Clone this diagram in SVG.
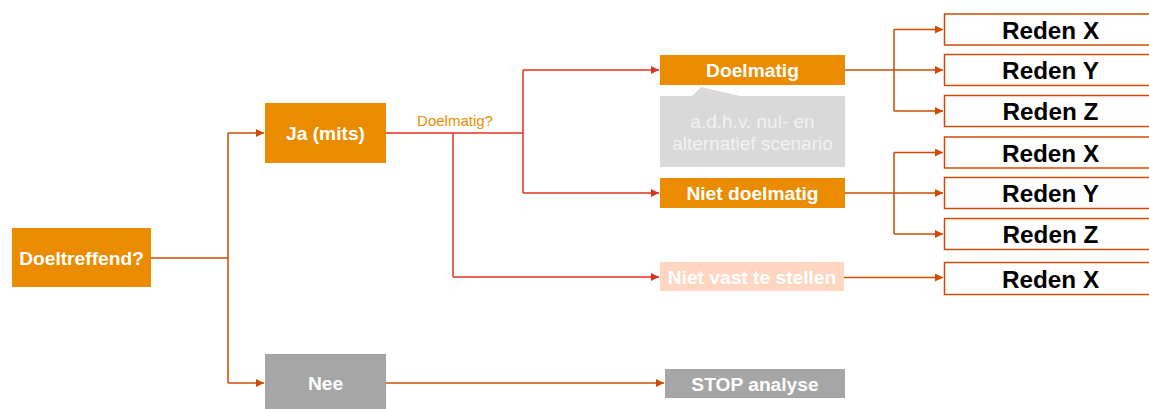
<svg xmlns="http://www.w3.org/2000/svg" width="1149" height="409" viewBox="0 0 1149 409">
<style>
.t{font-family:"Liberation Sans",Arial,sans-serif;font-weight:bold;fill:#fff;text-anchor:middle;font-size:19.2px}
.r{font-family:"Liberation Sans",Arial,sans-serif;font-weight:bold;fill:#000;font-size:24.3px;text-anchor:middle}
.g{font-family:"Liberation Sans",Arial,sans-serif;fill:#F2F2F2;font-size:19px;text-anchor:middle}
.o{fill:#EB8C00}
.rb{fill:#fff;stroke:#D04A02;stroke-width:1.5}
.c1{fill:none;stroke:#D04A02;stroke-width:1.5}
.c2{fill:none;stroke:#E0301E;stroke-width:1.5}
</style>
<defs>
<marker id="a1" markerWidth="8" markerHeight="8" refX="8" refY="4" orient="auto" markerUnits="userSpaceOnUse"><path d="M0,0 L8,4 L0,8 Z" fill="#D04A02"/></marker>
<marker id="a2" markerWidth="8" markerHeight="8" refX="8" refY="4" orient="auto" markerUnits="userSpaceOnUse"><path d="M0,0 L8,4 L0,8 Z" fill="#E0301E"/></marker>
</defs>
<g id="connectors">
<path class="c1" d="M151,258 H228 M228,133 V383" />
<path class="c1" d="M228,133 H264" marker-end="url(#a1)"/>
<path class="c1" d="M228,383 H264" marker-end="url(#a1)"/>
<path class="c1" d="M386,383 H664" marker-end="url(#a1)"/>
<path class="c2" d="M386,133 H523 M523,70 V193 M453,133 V277"/>
<path class="c2" d="M523,70 H659" marker-end="url(#a2)"/>
<path class="c2" d="M523,193 H659" marker-end="url(#a2)"/>
<path class="c2" d="M453,277 H659" marker-end="url(#a2)"/>
<path class="c1" d="M845,70 H894 M894,29.5 V111 M845,193 H894 M894,152.5 V234"/>
<path class="c1" d="M894,29.5 H943" marker-end="url(#a1)"/>
<path class="c1" d="M894,70 H943" marker-end="url(#a1)"/>
<path class="c1" d="M894,111 H943" marker-end="url(#a1)"/>
<path class="c1" d="M894,152.5 H943" marker-end="url(#a1)"/>
<path class="c1" d="M894,193 H943" marker-end="url(#a1)"/>
<path class="c1" d="M894,234 H943" marker-end="url(#a1)"/>
<path class="c1" d="M844,277.5 H943" marker-end="url(#a1)"/>
<text x="455" y="126" font-family="Liberation Sans, Arial, sans-serif" font-size="15" fill="#EB8C00" text-anchor="middle">Doelmatig?</text>
</g>
<g id="doeltreffend"><rect class="o" x="12" y="228" width="139" height="59"/><text class="t" x="81.5" y="264.5">Doeltreffend?</text></g>
<g id="ja"><rect class="o" x="265" y="103" width="121" height="60"/><text class="t" x="325.5" y="140">Ja (mits)</text></g>
<g id="nee"><rect fill="#A6A6A6" x="265" y="354" width="121" height="55"/><text class="t" x="325.5" y="390">Nee</text></g>
<g id="doelmatig"><rect class="o" x="660" y="55" width="185" height="30"/><text class="t" x="752.5" y="77">Doelmatig</text></g>
<g id="callout"><path fill="#D9D9D9" d="M660,96 H692 L701,87 L740,96 H845 V167 H660 Z"/>
<text class="g" x="752.5" y="127.5">a.d.h.v. nul- en</text>
<text class="g" x="752.5" y="149.5">alternatief scenario</text></g>
<g id="nietdoelmatig"><rect class="o" x="660" y="178" width="185" height="30"/><text class="t" x="752.5" y="200">Niet doelmatig</text></g>
<g id="nietvast"><rect fill="#FED6C2" x="660" y="262" width="184" height="29"/><text class="t" x="752" y="284">Niet vast te stellen</text></g>
<g id="stop"><rect fill="#A6A6A6" x="665" y="369" width="180" height="29"/><text class="t" x="755" y="391">STOP analyse</text></g>
<g id="r1"><rect class="rb" x="944.5" y="14" width="212" height="31"/><text class="r" x="1050.5" y="38.5">Reden X</text></g>
<g id="r2"><rect class="rb" x="944.5" y="54.5" width="212" height="31"/><text class="r" x="1050.5" y="79">Reden Y</text></g>
<g id="r3"><rect class="rb" x="944.5" y="95.5" width="212" height="31"/><text class="r" x="1050.5" y="120">Reden Z</text></g>
<g id="r4"><rect class="rb" x="944.5" y="137" width="212" height="31"/><text class="r" x="1050.5" y="161.5">Reden X</text></g>
<g id="r5"><rect class="rb" x="944.5" y="177.5" width="212" height="31"/><text class="r" x="1050.5" y="202">Reden Y</text></g>
<g id="r6"><rect class="rb" x="944.5" y="218.5" width="212" height="31"/><text class="r" x="1050.5" y="243">Reden Z</text></g>
<g id="r7"><rect class="rb" x="944.5" y="262.5" width="212" height="32"/><text class="r" x="1050.5" y="287.5">Reden X</text></g>
</svg>
